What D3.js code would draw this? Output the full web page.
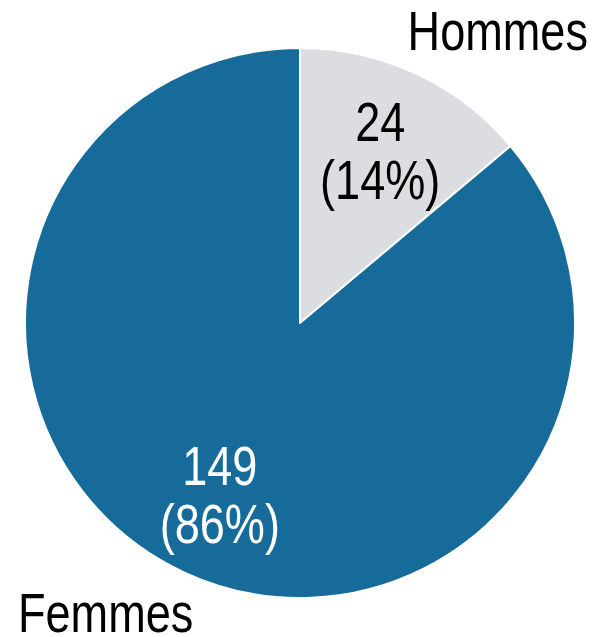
<!DOCTYPE html>
<html>
<head>
<meta charset="utf-8">
<script src="https://cdn.jsdelivr.net/npm/d3@7"></script>
<style>
  html, body { margin: 0; padding: 0; background: #fff; }
  svg text { font-family: "Liberation Sans", Arial, sans-serif; }
</style>
</head>
<body>
<svg id="chart" width="595" height="637"></svg>
<script>
// Répartition par sexe
const categories = ["Hommes", "Femmes"];
const values = [24, 149];
const percents = ["14%", "86%"];
const colors = ["#dcdde1", "#176b9b"];
const labelColors = ["#000000", "#ffffff"];

const svg = d3.select("#chart");
const cx = 300, cy = 323, radius = 275;
const narrow = 0.82;   // condensed look, like Arial Narrow
const fontSize = 55;

const pie = d3.pie().sort(null).value(d => d.value);
const data = pie(categories.map((c, i) => ({ name: c, value: values[i], pct: percents[i], i })));

const arc = d3.arc().innerRadius(0).outerRadius(radius);
const labelArc = d3.arc().innerRadius(190).outerRadius(190);

const g = svg.append("g").attr("transform", `translate(${cx},${cy})`);

g.selectAll("path.slice")
  .data(data)
  .join("path")
  .attr("class", "slice")
  .attr("d", arc)
  .attr("fill", d => colors[d.data.i])
  .attr("stroke", "#ffffff")
  .attr("stroke-width", 2)
  .attr("stroke-linejoin", "round");

// Valeurs et pourcentages dans chaque secteur
const lbl = g.selectAll("text.value")
  .data(data)
  .join("text")
  .attr("class", "value")
  .attr("text-anchor", "middle")
  .attr("font-size", fontSize)
  .attr("fill", d => labelColors[d.data.i])
  .attr("transform", d => {
    const [x, y] = labelArc.centroid(d);
    return `translate(${x},${y}) scale(${narrow},1)`;
  });
lbl.append("tspan").attr("x", 0).attr("y", -10).text(d => d.data.value);
lbl.append("tspan").attr("x", 0).attr("y", 48).text(d => `(${d.data.pct})`);

// Noms des catégories
svg.append("text")
  .attr("transform", `translate(588,50) scale(${narrow},1)`)
  .attr("text-anchor", "end")
  .attr("font-size", fontSize)
  .attr("fill", "#000")
  .text(categories[0]);

svg.append("text")
  .attr("transform", `translate(18,632) scale(${narrow},1)`)
  .attr("text-anchor", "start")
  .attr("font-size", fontSize)
  .attr("fill", "#000")
  .text(categories[1]);
</script>
</body>
</html>
